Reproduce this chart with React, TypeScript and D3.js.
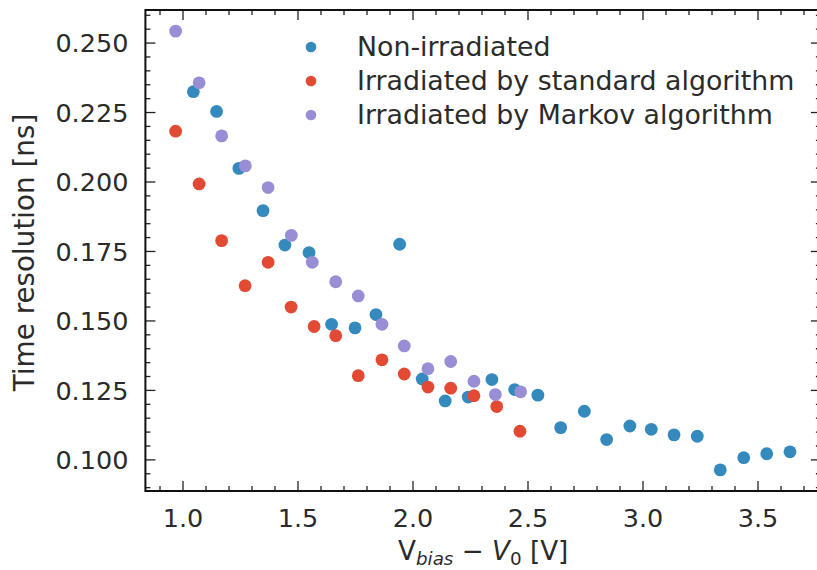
import React from "react";
import * as d3 from "d3";

// Measurements: bias voltage above breakdown [V] vs. time resolution [ns]
const nonIrrX = [1.045, 1.146, 1.243, 1.348, 1.443, 1.548, 1.646, 1.748, 1.839, 1.942, 2.04, 2.14, 2.24, 2.343, 2.442, 2.543, 2.642, 2.745, 2.842, 2.943, 3.036, 3.135, 3.236, 3.336, 3.438, 3.538, 3.639];
const nonIrrY = [0.2325, 0.2254, 0.2049, 0.1897, 0.1773, 0.1746, 0.1488, 0.1475, 0.1523, 0.1776, 0.1291, 0.1212, 0.1226, 0.1289, 0.1253, 0.1233, 0.1116, 0.1175, 0.1073, 0.1122, 0.111, 0.109, 0.1085, 0.0964, 0.1008, 0.1022, 0.1029];

const stdX = [0.968, 1.07, 1.168, 1.27, 1.37, 1.47, 1.57, 1.664, 1.762, 1.865, 1.962, 2.065, 2.164, 2.265, 2.364, 2.465];
const stdY = [0.2183, 0.1993, 0.1789, 0.1627, 0.1711, 0.155, 0.148, 0.1447, 0.1303, 0.136, 0.1309, 0.1262, 0.1258, 0.1231, 0.1192, 0.1103];

const markovX = [0.968, 1.07, 1.168, 1.271, 1.37, 1.471, 1.562, 1.664, 1.762, 1.865, 1.962, 2.065, 2.164, 2.265, 2.358, 2.468];
const markovY = [0.2543, 0.2357, 0.2166, 0.2058, 0.198, 0.1808, 0.1711, 0.1641, 0.159, 0.1488, 0.141, 0.1328, 0.1354, 0.1283, 0.1235, 0.1245];

const seriesNames = ["Non-irradiated", "Irradiated by standard algorithm", "Irradiated by Markov algorithm"];
const seriesColors = ["#348ABD", "#E24A33", "#988ED5"];

const xTicks = [1.0, 1.5, 2.0, 2.5, 3.0, 3.5];
const yTicks = [0.1, 0.125, 0.15, 0.175, 0.2, 0.225, 0.25];

const W = 817;
const H = 570;
const left = 145.4;
const right = 820.9;
const top = 10;
const bottom = 491;
const FONT = "'DejaVu Sans', sans-serif";
const FS = 25.5;
const LEGEND_FS = 26.8;
const YLABEL_FS = 27.8;
const XLABEL_FS = 26.2;

export default function App() {
  const x = d3.scaleLinear().domain([0.8365, 3.7735]).range([left, right]);
  const y = d3.scaleLinear().domain([0.0888, 0.2619]).range([bottom, top]);

  const xMinor = d3.range(0.9, 3.75, 0.1).map((v) => +v.toFixed(2)).filter((v) => !xTicks.some((t) => Math.abs(t - v) < 1e-6));
  const yMinor = d3.range(0.09, 0.262, 0.005).map((v) => +v.toFixed(3)).filter((v) => !yTicks.some((t) => Math.abs(t - v) < 1e-6));

  const series = [
    { xs: nonIrrX, ys: nonIrrY },
    { xs: stdX, ys: stdY },
    { xs: markovX, ys: markovY },
  ];

  const MAJ = 10;
  const MIN = 5;
  const tickStroke = "#222";

  return (
    <svg width={W} height={H} style={{ position: "absolute", left: 0, top: 0, background: "#fff" }}>
      <rect x={0} y={0} width={W} height={H} fill="#fff" />
      {/* scatter markers */}
      <g>
        {series.map((s, si) =>
          s.xs.map((xv, i) => (
            <circle key={`${si}-${i}`} cx={x(xv)} cy={y(s.ys[i])} r={6.4} fill={seriesColors[si]} />
          ))
        )}
      </g>
      {/* ticks on all four sides, pointing inward */}
      <g stroke={tickStroke} strokeWidth={1.3}>
        {xTicks.map((t) => (
          <g key={`xt${t}`}>
            <line x1={x(t)} x2={x(t)} y1={bottom} y2={bottom - MAJ} />
            <line x1={x(t)} x2={x(t)} y1={top} y2={top + MAJ} />
          </g>
        ))}
        {xMinor.map((t) => (
          <g key={`xm${t}`}>
            <line x1={x(t)} x2={x(t)} y1={bottom} y2={bottom - MIN} />
            <line x1={x(t)} x2={x(t)} y1={top} y2={top + MIN} />
          </g>
        ))}
        {yTicks.map((t) => (
          <g key={`yt${t}`}>
            <line x1={left} x2={left + MAJ} y1={y(t)} y2={y(t)} />
            <line x1={right} x2={right - MAJ} y1={y(t)} y2={y(t)} />
          </g>
        ))}
        {yMinor.map((t) => (
          <g key={`ym${t}`}>
            <line x1={left} x2={left + MIN} y1={y(t)} y2={y(t)} />
            <line x1={right} x2={right - MIN} y1={y(t)} y2={y(t)} />
          </g>
        ))}
      </g>
      {/* frame */}
      <rect x={left} y={top} width={right - left} height={bottom - top} fill="none" stroke="#111" strokeWidth={2} />
      {/* tick labels */}
      <g fontFamily={FONT} fontSize={FS} fill="#2b2b2b">
        {xTicks.map((t) => (
          <text key={`xl${t}`} x={x(t)} y={bottom + 36} textAnchor="middle">
            {d3.format(".1f")(t)}
          </text>
        ))}
        {yTicks.map((t) => (
          <text key={`yl${t}`} x={left - 17} y={y(t)} dy="0.36em" textAnchor="end">
            {d3.format(".3f")(t)}
          </text>
        ))}
      </g>
      {/* axis titles */}
      <text x={(left + right) / 2} y={560} textAnchor="middle" fontFamily={FONT} fontSize={XLABEL_FS} fill="#2b2b2b">
        V<tspan fontStyle="italic" fontSize={XLABEL_FS * 0.7} dy={5}>bias</tspan>
        <tspan dy={-5}> − </tspan>
        <tspan fontStyle="italic">V</tspan>
        <tspan fontSize={XLABEL_FS * 0.7} dy={5}>0</tspan>
        <tspan dy={-5}> [V]</tspan>
      </text>
      <text transform={`translate(34, ${(top + bottom) / 2 + 2}) rotate(-90)`} textAnchor="middle" fontFamily={FONT} fontSize={YLABEL_FS} fill="#2b2b2b">
        Time resolution [ns]
      </text>
      {/* legend */}
      <g fontFamily={FONT} fontSize={LEGEND_FS} fill="#2b2b2b">
        {seriesNames.map((name, i) => (
          <g key={name}>
            <circle cx={311} cy={47 + i * 34} r={5.3} fill={seriesColors[i]} />
            <text x={357} y={46 + i * 34} dy="0.36em">{name}</text>
          </g>
        ))}
      </g>
    </svg>
  );
}
